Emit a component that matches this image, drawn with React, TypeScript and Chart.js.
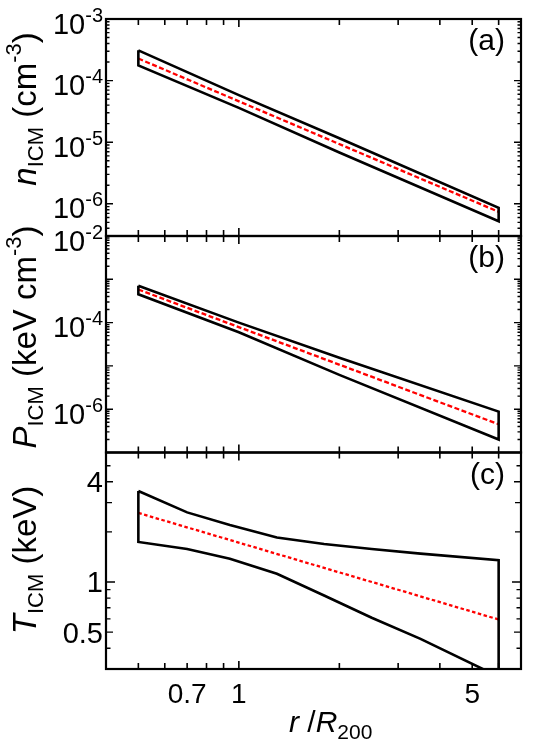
import React, { useEffect, useRef } from "react";
import { Chart, registerables } from "chart.js";

Chart.register(...registerables);

// ---------------- data ----------------
const X_MIN = 0.4;
const X_MAX = 7;
const X_TICKS = [0.5, 0.6, 0.7, 0.8, 0.9, 1, 2, 3, 4, 5, 6];
const X_TICK_LABELS = [0.7, 1, 5];

// (a) electron density
const R_NE = [0.5, 1, 2, 6];
const NE_UPPER = [3.1e-4, 5.8e-5, 1.16e-5, 8.6e-7];
const NE_LOWER = [1.77e-4, 3.6e-5, 6.8e-6, 5.2e-7];
const R_NE_FIT = [0.5, 6];
const NE_FIT = [2.28e-4, 7.4e-7];
const NE_MAJOR = [1e-6, 1e-5, 1e-4, 1e-3];
const NE_LABELED = [-6, -5, -4, -3];

// (b) pressure
const R_P = [0.5, 1, 2, 6];
const P_UPPER = [7.1e-4, 1.0e-4, 1.55e-5, 8.8e-7];
const P_LOWER = [4.5e-4, 6.0e-5, 6.2e-6, 2.0e-7];
const R_P_FIT = [0.5, 6];
const P_FIT = [5.8e-4, 4.5e-7];
const P_MAJOR = [1e-7, 1e-6, 1e-5, 1e-4, 1e-3, 1e-2];
const P_LABELED = [-6, -4, -2];

// (c) temperature
const R_T = [0.5, 0.7, 0.94, 1.3, 1.8, 2.5, 3.5, 6];
const T_UPPER = [3.52, 2.62, 2.2, 1.85, 1.69, 1.58, 1.48, 1.35];
const T_LOWER = [1.74, 1.58, 1.38, 1.12, 0.83, 0.61, 0.455, 0.27];
const R_T_FIT = [0.5, 6];
const T_FIT = [2.6, 0.595];
const T_TICKS = [0.4, 0.5, 0.6, 0.7, 0.8, 0.9, 1, 2, 3, 4, 5];
const T_TICK_LABELS = ["0.5", "1", "4"];

// ---------------- layout ----------------
const W = 545;
const H = 742;
const LEFT = 106;
const RIGHT = 521;
const FONT = "'Liberation Sans', Arial, Helvetica, sans-serif";

type Seg = { t: string; size: number; italic?: boolean; dy?: number };

function drawRich(
  ctx: CanvasRenderingContext2D,
  segs: Seg[],
  x: number,
  y: number,
  align: "left" | "right" | "center",
  rotate = false
) {
  ctx.save();
  ctx.translate(x, y);
  if (rotate) ctx.rotate(-Math.PI / 2);
  ctx.textBaseline = "alphabetic";
  ctx.textAlign = "left";
  ctx.fillStyle = "#000";
  const widths: number[] = [];
  let total = 0;
  for (const s of segs) {
    ctx.font = `${s.italic ? "italic " : ""}${s.size}px ${FONT}`;
    const w = ctx.measureText(s.t).width;
    widths.push(w);
    total += w;
  }
  let cx = align === "left" ? 0 : align === "right" ? -total : -total / 2;
  segs.forEach((s, i) => {
    ctx.font = `${s.italic ? "italic " : ""}${s.size}px ${FONT}`;
    ctx.fillText(s.t, cx, s.dy || 0);
    cx += widths[i];
  });
  ctx.restore();
}

function logMinors(lo: number, hi: number): number[] {
  const out: number[] = [];
  for (let e = Math.floor(Math.log10(lo)); e <= Math.ceil(Math.log10(hi)); e++) {
    for (let m = 2; m <= 9; m++) {
      const v = m * Math.pow(10, e);
      if (v > lo * 1.0001 && v < hi * 0.9999) out.push(v);
    }
  }
  return out;
}

type YTick = { v: number; len: number };
type YLab = { v: number; segs: Seg[]; dy: number };

type PanelDef = {
  top: number;
  bottom: number;
  yMin: number;
  yMax: number;
  rBand: number[];
  upper: number[];
  lower: number[];
  rFit: number[];
  fit: number[];
  dash: number[];
  yTicks: YTick[];
  yLabels: YLab[];
  ylabel: Seg[];
  ylabelCenter: number;
  tag: string;
  xLabels: boolean;
};

function powLabel(e: number): Seg[] {
  return [
    { t: "10", size: 29 },
    { t: String(e), size: 20, dy: -12 },
  ];
}

const LBL = 33;
const SUB = 22;

const PANELS: PanelDef[] = [
  {
    top: 19,
    bottom: 236,
    yMin: 3e-7,
    yMax: 1e-3,
    rBand: R_NE,
    upper: NE_UPPER,
    lower: NE_LOWER,
    rFit: R_NE_FIT,
    fit: NE_FIT,
    dash: [5, 2.5],
    yTicks: [
      ...NE_MAJOR.map((v) => ({ v, len: 7 })),
      ...logMinors(3e-7, 1e-3).map((v) => ({ v, len: 3.5 })),
    ],
    yLabels: NE_LABELED.map((e) => ({ v: Math.pow(10, e), segs: powLabel(e), dy: 14.5 })),
    ylabel: [
      { t: "n", size: LBL, italic: true },
      { t: "ICM", size: SUB, dy: 7 },
      { t: " (cm", size: LBL },
      { t: "-3", size: SUB, dy: -15 },
      { t: ")", size: LBL },
    ],
    ylabelCenter: 109,
    tag: "(a)",
    xLabels: false,
  },
  {
    top: 236,
    bottom: 452.5,
    yMin: 1e-7,
    yMax: 1e-2,
    rBand: R_P,
    upper: P_UPPER,
    lower: P_LOWER,
    rFit: R_P_FIT,
    fit: P_FIT,
    dash: [5, 2.5],
    yTicks: [
      ...P_MAJOR.map((v) => ({ v, len: 7 })),
      ...logMinors(1e-7, 1e-2).map((v) => ({ v, len: 3.5 })),
    ],
    yLabels: P_LABELED.map((e) => ({ v: Math.pow(10, e), segs: powLabel(e), dy: 14.5 })),
    ylabel: [
      { t: "P", size: LBL, italic: true },
      { t: "ICM", size: SUB, dy: 7 },
      { t: " (keV cm", size: LBL },
      { t: "-3", size: SUB, dy: -15 },
      { t: ")", size: LBL },
    ],
    ylabelCenter: 337,
    tag: "(b)",
    xLabels: false,
  },
  {
    top: 452.5,
    bottom: 669,
    yMin: 0.3,
    yMax: 6,
    rBand: R_T,
    upper: T_UPPER,
    lower: T_LOWER,
    rFit: R_T_FIT,
    fit: T_FIT,
    dash: [3.5, 2.5],
    yTicks: T_TICKS.map((v) => ({
      v,
      len: v === 1 ? 9 : v === 4 || v === 0.5 ? 7 : v === 2 || v === 3 ? 6 : 4.5,
    })),
    yLabels: T_TICK_LABELS.map((s) => ({ v: parseFloat(s), segs: [{ t: s, size: 29 }], dy: 10.5 })),
    ylabel: [
      { t: "T", size: LBL, italic: true },
      { t: "ICM", size: SUB, dy: 7 },
      { t: " (keV)", size: LBL },
    ],
    ylabelCenter: 560,
    tag: "(c)",
    xLabels: true,
  },
];

function polygon(r: number[], up: number[], lo: number[]) {
  const pts: { x: number; y: number }[] = [];
  r.forEach((x, i) => pts.push({ x, y: up[i] }));
  for (let i = r.length - 1; i >= 0; i--) pts.push({ x: r[i], y: lo[i] });
  pts.push({ x: r[0], y: up[0] });
  return pts;
}

function makeFramePlugin(p: PanelDef) {
  return {
    id: "frame",
    afterDraw(chart: any) {
      const ctx: CanvasRenderingContext2D = chart.ctx;
      const xs = chart.scales.x;
      const ys = chart.scales.y;
      const a = chart.chartArea;
      ctx.save();
      ctx.strokeStyle = "#000";
      ctx.lineWidth = 1.6;
      ctx.lineCap = "butt";
      // x ticks (top and bottom, inward)
      for (const t of X_TICKS) {
        const px = xs.getPixelForValue(t);
        const len = t === 1 ? 8 : 6;
        ctx.beginPath();
        ctx.moveTo(px, a.top);
        ctx.lineTo(px, a.top + len);
        ctx.moveTo(px, a.bottom);
        ctx.lineTo(px, a.bottom - len);
        ctx.stroke();
      }
      // y ticks (left and right, inward)
      ctx.lineWidth = 1.4;
      for (const t of p.yTicks) {
        const py = ys.getPixelForValue(t.v);
        if (py < a.top + 1 || py > a.bottom - 1) continue;
        ctx.beginPath();
        ctx.moveTo(a.left, py);
        ctx.lineTo(a.left + t.len, py);
        ctx.moveTo(a.right, py);
        ctx.lineTo(a.right - t.len, py);
        ctx.stroke();
      }
      // frame
      ctx.lineWidth = 2.2;
      ctx.strokeRect(a.left, a.top, a.right - a.left, a.bottom - a.top);
      ctx.restore();

      // y tick labels
      for (const l of p.yLabels) {
        const py = ys.getPixelForValue(l.v);
        drawRich(ctx, l.segs, a.left - 3, py + l.dy, "right");
      }
      // x tick labels
      if (p.xLabels) {
        for (const v of X_TICK_LABELS) {
          const px = xs.getPixelForValue(v);
          drawRich(ctx, [{ t: String(v), size: 28 }], px, a.bottom + 34, "center");
        }
        drawRich(
          ctx,
          [
            { t: "r", size: 30, italic: true },
            { t: " /", size: 30 },
            { t: "R", size: 30, italic: true },
            { t: "200", size: 21, dy: 7 },
          ],
          289,
          732,
          "left"
        );
      }
      // axis title
      drawRich(ctx, p.ylabel, 36, p.ylabelCenter, "center", true);
      // panel tag
      drawRich(ctx, [{ t: p.tag, size: 30 }], a.right - 16, a.top + 31, "right");
    },
  };
}

function PanelChart({ p }: { p: PanelDef }) {
  const ref = useRef<HTMLCanvasElement | null>(null);
  useEffect(() => {
    if (!ref.current) return;
    const chart = new Chart(ref.current, {
      type: "scatter",
      data: {
        datasets: [
          {
            data: polygon(p.rBand, p.upper, p.lower),
            showLine: true,
            borderColor: "#000",
            borderWidth: 2.6,
            pointRadius: 0,
            tension: 0,
            fill: false,
            borderJoinStyle: "miter",
          } as any,
          {
            data: p.rFit.map((x, i) => ({ x, y: p.fit[i] })),
            showLine: true,
            borderColor: "#ff0000",
            borderWidth: 2.3,
            borderDash: p.dash,
            pointRadius: 0,
            tension: 0,
            fill: false,
          } as any,
        ],
      },
      options: {
        responsive: false,
        animation: false,
        events: [],
        layout: {
          padding: { left: LEFT, right: W - RIGHT, top: p.top, bottom: H - p.bottom },
        },
        plugins: {
          legend: { display: false },
          tooltip: { enabled: false },
          title: { display: false },
        },
        scales: {
          x: { type: "logarithmic", min: X_MIN, max: X_MAX, display: false },
          y: { type: "logarithmic", min: p.yMin, max: p.yMax, display: false },
        },
      },
      plugins: [makeFramePlugin(p)],
    });
    return () => chart.destroy();
  }, [p]);
  return (
    <canvas
      ref={ref}
      width={W}
      height={H}
      style={{ position: "absolute", left: 0, top: 0, width: W, height: H }}
    />
  );
}

export default function App() {
  return (
    <div
      style={{
        position: "absolute",
        left: 0,
        top: 0,
        width: W,
        height: H,
        background: "#fff",
        overflow: "hidden",
      }}
    >
      {PANELS.map((p, i) => (
        <PanelChart key={i} p={p} />
      ))}
    </div>
  );
}
